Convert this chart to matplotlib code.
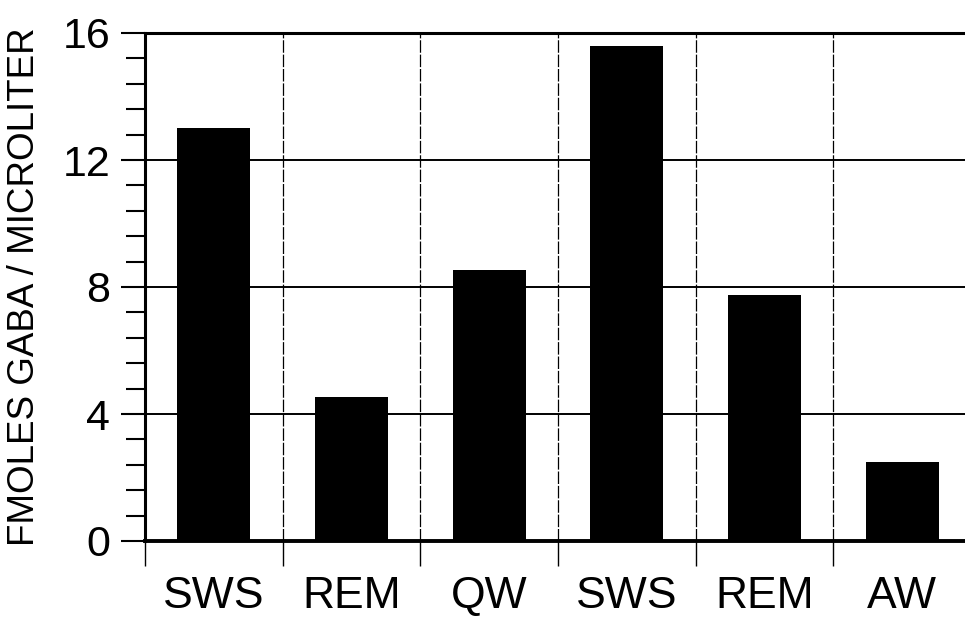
import matplotlib
matplotlib.use("Agg")
import matplotlib.pyplot as plt
from matplotlib.ticker import AutoMinorLocator, FixedLocator, NullFormatter
import numpy as np

plt.rcParams['font.family'] = ['Liberation Sans', 'DejaVu Sans']

states = ["SWS", "REM", "QW", "SWS", "REM", "AW"]
gaba = [13.0, 4.55, 8.55, 15.6, 7.75, 2.5]
y_ticks = [0, 4, 8, 12, 16]

fig = plt.figure(figsize=(9.65, 6.2), dpi=100)
# axes run slightly past the right edge so the right spine is cut off
ax = fig.add_axes([145 / 965, 79 / 620, 826 / 965, 508 / 620])

x = np.arange(len(states)) + 0.5
ax.bar(x, gaba, width=0.53, color="black", zorder=3)

ax.set_xlim(0, len(states))
ax.set_ylim(0, 16)

# y axis: major ticks with labels, 5 minor subdivisions
ax.set_yticks(y_ticks)
ax.yaxis.set_minor_locator(AutoMinorLocator(5))
ax.tick_params(axis="y", which="major", direction="out", length=17, width=1.5,
               labelsize=31, pad=8)
ax.tick_params(axis="y", which="minor", direction="out", length=14, width=1.5)

# x axis: ticks at cell boundaries, labels at cell centres
ax.xaxis.set_major_locator(FixedLocator(np.arange(len(states) + 1)))
ax.xaxis.set_major_formatter(NullFormatter())
ax.xaxis.set_minor_locator(FixedLocator(x))
ax.set_xticklabels(states, minor=True)
ax.tick_params(axis="x", which="major", direction="out", length=18, width=1.0)
ax.tick_params(axis="x", which="minor", length=0, labelsize=32, pad=25)

# grid
for yv in y_ticks[1:-1]:
    ax.axhline(yv, color="black", lw=1.4, zorder=1)
for xv in range(1, len(states)):
    ax.axvline(xv, color="black", lw=0.9, ls=(0, (10, 1.5)), zorder=1)

for side in ["left", "bottom", "top"]:
    ax.spines[side].set_linewidth(2.2)
ax.spines["bottom"].set_linewidth(2.8)
ax.spines["right"].set_visible(False)

ax.set_ylabel("FMOLES GABA / MICROLITER", fontsize=26.5)
ax.yaxis.set_label_coords(-0.125, 0.5)

fig.savefig("out.png", dpi=100)
